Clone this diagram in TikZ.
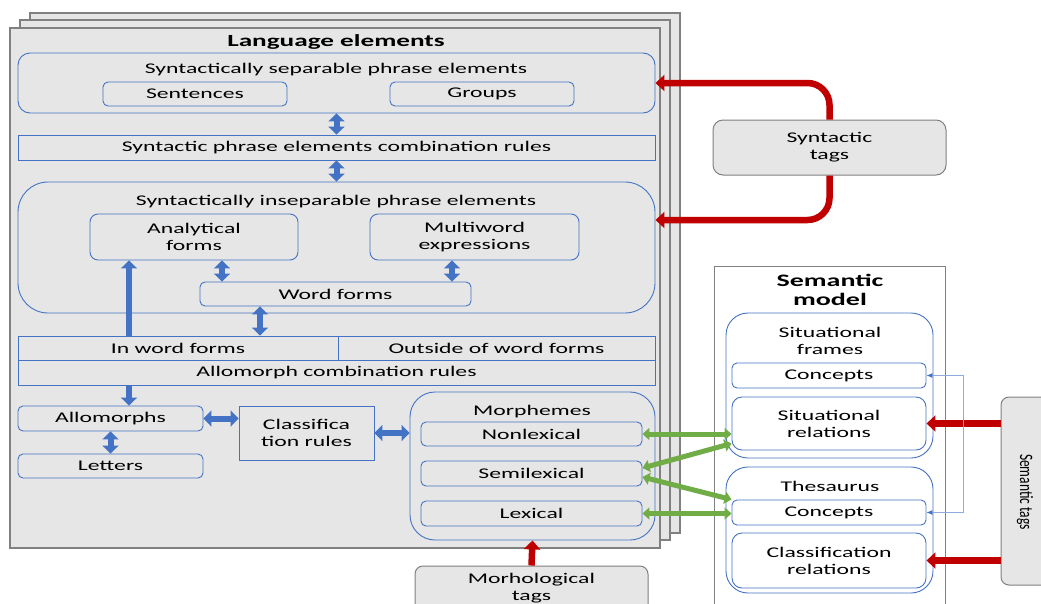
\documentclass[tikz,border=0pt]{standalone}
\usepackage{fontspec}
\setmainfont[FakeStretch=1.6]{Carlito}
\newfontfamily\plainfont{Carlito}
\usetikzlibrary{arrows.meta,calc}
\definecolor{boxblue}{HTML}{4472C4}
\definecolor{arrblue}{HTML}{4472C4}
\definecolor{arrred}{HTML}{C00000}
\definecolor{arrgreen}{HTML}{70AD47}
\definecolor{fillgray}{HTML}{E6E6E6}
\definecolor{laygray}{HTML}{808080}
\definecolor{thinblue}{HTML}{8FAADC}
\tikzset{
  lay/.style={draw=laygray, fill=fillgray, line width=1.2pt},
  bx/.style={draw=boxblue, line width=0.9pt, inner sep=0pt, align=center},
  rbx/.style={bx, rounded corners=#1},
  tagbox/.style={draw=laygray, fill=fillgray, line width=1pt, rounded corners=#1, inner sep=0pt, align=center},
  lbl/.style={inner sep=0pt, align=center},
  fatblue/.style={draw=arrblue, line width=6pt, {Triangle[length=8pt,width=16pt]}-{Triangle[length=8pt,width=16pt]}},
  fatblueone/.style={draw=arrblue, line width=6.5pt, -{Triangle[length=8pt,width=16pt]}},
  redarr/.style={draw=arrred, line width=6.5pt, -{Triangle[length=9pt,width=16pt]}},
  greenarr/.style={draw=arrgreen, line width=5pt, {Triangle[length=7pt,width=12pt]}-{Triangle[length=7pt,width=12pt]}},
  thinarr/.style={draw=thinblue, line width=0.8pt, {Latex[length=6pt,width=5pt,color=boxblue]}-{Latex[length=6pt,width=5pt,color=boxblue]}},
}
\begin{document}
\begin{tikzpicture}[x=1pt,y=-1pt,font=\fontsize{14.8}{17}\selectfont]
\clip (0,0) rectangle (1041,603);
\useasboundingbox (0,0) rectangle (1041,603);
\fill[white] (0,0) rectangle (1041,603);
% stacked layers
\node[lay, minimum width=650pt, minimum height=520pt] (lay3) at (355,273) {};
\node[lay, minimum width=650pt, minimum height=520pt] (lay2) at (345,280) {};
\node[lay, minimum width=650pt, minimum height=520pt] (lang) at (335,288) {};
\node[lbl, font=\fontsize{17}{19}\selectfont\bfseries] (title) at (336,42) {Language elements};
% syntactically separable
\node[rbx=12pt, minimum width=637pt, minimum height=60pt] (sep) at (336.5,83) {};
\node[lbl] (septxt) at (336,70) {Syntactically separable phrase elements};
\node[rbx=5pt, minimum width=184pt, minimum height=24pt] (sent) at (195,94) {Sentences};
\node[rbx=5pt, minimum width=184pt, minimum height=24pt] (groups) at (482,94) {Groups};
\node[bx, minimum width=637pt, minimum height=25pt] (rules1) at (336.5,147.5) {Syntactic phrase elements combination rules};
% inseparable
\node[rbx=30pt, minimum width=637pt, minimum height=131pt] (insep) at (336.5,247.5) {};
\node[lbl] (inseptxt) at (336,202) {Syntactically inseparable phrase elements};
\node[rbx=8pt, minimum width=208pt, minimum height=46pt] (anal) at (194,237) {Analytical\\forms};
\node[rbx=8pt, minimum width=209pt, minimum height=46pt] (multi) at (474.5,237) {Multiword\\expressions};
\node[rbx=5pt, minimum width=271pt, minimum height=24pt] (wordf) at (335.5,294) {Word forms};
\node[bx, minimum width=320pt, minimum height=24pt] (inwf) at (178,348) {In word forms};
\node[bx, minimum width=317pt, minimum height=24pt] (outwf) at (496.5,348) {Outside of word forms};
\node[bx, minimum width=637pt, minimum height=25pt] (allorules) at (336.5,372.5) {Allomorph combination rules};
\node[rbx=5pt, minimum width=185pt, minimum height=25pt] (allo) at (110.5,418.5) {Allomorphs};
\node[rbx=5pt, minimum width=185pt, minimum height=24pt] (letters) at (110.5,466) {Letters};
\node[bx, minimum width=135pt, minimum height=54pt] (classr) at (306.5,433) {Classifica\\tion rules};
% morphemes
\node[rbx=25pt, minimum width=245pt, minimum height=148pt] (morph) at (532.5,466) {};
\node[lbl] (morphtxt) at (532,412) {Morphemes};
\node[rbx=5pt, minimum width=221pt, minimum height=24pt] (nonlex) at (531.5,434) {Nonlexical};
\node[rbx=5pt, minimum width=221pt, minimum height=25pt] (semilex) at (531.5,473.5) {Semilexical};
\node[rbx=5pt, minimum width=221pt, minimum height=25pt] (lex) at (531.5,513.5) {Lexical};
% tags
\node[tagbox=8pt, minimum width=233pt, minimum height=54pt] (morphtags) at (531.5,593) {};
\node[lbl] (morphtagstxt) at (531.5,588.5) {Morhological\\tags};
\node[tagbox=10pt, minimum width=233pt, minimum height=55pt] (syntags) at (829.5,147.5) {Syntactic\\tags};
% semantic model
\node[draw=laygray, fill=white, line width=1pt, minimum width=231pt, minimum height=354pt, inner sep=0pt] (semmodel) at (829.5,443) {};
\node[lbl, font=\fontsize{17.5}{18.5}\selectfont\bfseries] (semtitle) at (830,290) {Semantic\\model};
\node[rbx=22pt, minimum width=207pt, minimum height=145pt] (sitfr) at (829.5,385.5) {};
\node[lbl] (sitfrtxt) at (830,340.5) {Situational\\frames};
\node[rbx=5pt, minimum width=194pt, minimum height=25pt] (conc1) at (829,375.5) {Concepts};
\node[rbx=10pt, minimum width=194pt, minimum height=53pt] (sitrel) at (829,423.5) {Situational\\relations};
\node[rbx=22pt, minimum width=207pt, minimum height=126pt] (thes) at (829.5,530) {};
\node[lbl] (thestxt) at (830,486) {Thesaurus};
\node[rbx=5pt, minimum width=194pt, minimum height=25pt] (conc2) at (829,512.5) {Concepts};
\node[rbx=10pt, minimum width=194pt, minimum height=55pt] (clrel) at (829,560.5) {Classification\\relations};
\node[tagbox=8pt, minimum width=49pt, minimum height=188pt] (semtags) at (1025.5,491) {};
\node[lbl, rotate=-90] (semtagstxt) at (1025,492) {\plainfont\fontsize{13.5}{15}\selectfont\scalebox{1}[1.4]{Semantic tags}};
% blue arrows
\draw[fatblue] (sep.south) -- (rules1.north);
\draw[fatblue] (rules1.south) -- (insep.north);
\coordinate (a1) at ([xshift=-113.5pt]wordf.north);
\coordinate (a2) at ([xshift=116.5pt]wordf.north);
\coordinate (a3) at ([xshift=-75.5pt]wordf.south);
\coordinate (a4) at ([xshift=-49pt]inwf.north);
\coordinate (a5) at (a4 |- allorules.south);
\draw[fatblue] (a1 |- anal.south) -- (a1);
\draw[fatblue] (a2 |- multi.south) -- (a2);
\draw[fatblue] (a3) -- (a3 |- inwf.north);
\draw[fatblueone] (a4) -- (a4 |- anal.south);
\draw[fatblueone] (a5) -- (a5 |- allo.north);
\draw[fatblue] (allo.south) -- (letters.north);
\draw[fatblue] (allo.east) -- (allo.east -| classr.west);
\draw[fatblue] (classr.east) -- (classr.east -| morph.west);
% red arrows
\coordinate (inseptip) at ([yshift=27.5pt]insep.east);
\draw[redarr, rounded corners=22pt] (syntags.north) |- (sep.east);
\draw[redarr, rounded corners=22pt] (syntags.south) |- (inseptip);
\draw[redarr] (morphtags.north) -- (morph.south);
\draw[redarr] (semtags.west |- sitrel.east) -- (sitrel.east);
\draw[redarr] (semtags.west |- clrel.east) -- (clrel.east);
% thin blue connector
\draw[thinarr] (conc1.east) -- ++(37,0) |- (conc2.east);
% green arrows
\draw[greenarr] (nonlex.east) -- (nonlex.east -| sitrel.west);
\draw[greenarr] ([yshift=5.5pt]semilex.east) -- ([yshift=-20pt]sitrel.west);
\draw[greenarr] ([yshift=-3.5pt]semilex.east) -- (conc2.north west);
\draw[greenarr] (lex.east) -- (lex.east -| conc2.west);
\end{tikzpicture}
\end{document}
